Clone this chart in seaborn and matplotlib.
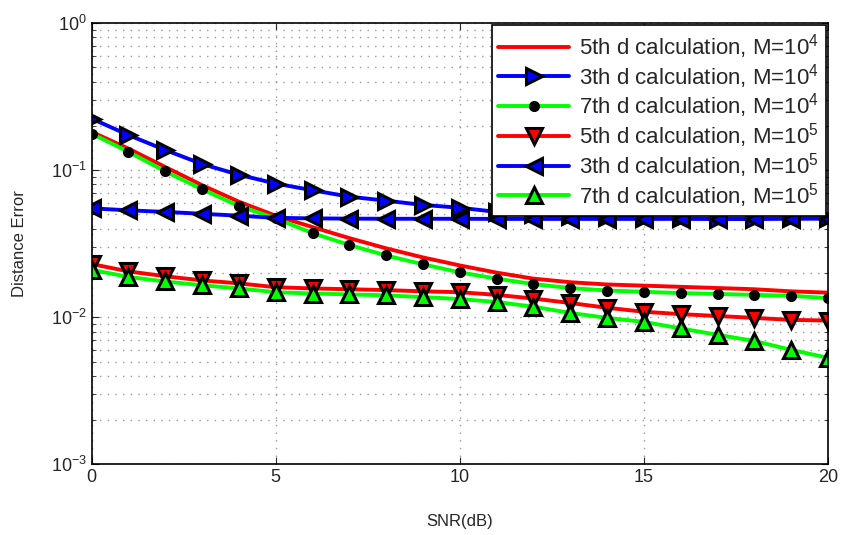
import numpy as np
import pandas as pd
import matplotlib
matplotlib.use("Agg")
import matplotlib.pyplot as plt
import seaborn as sns

# --- donnees ---
snr = list(range(21))

d5_m4 = [0.182, 0.140, 0.105, 0.079, 0.061, 0.049, 0.041, 0.0345, 0.0294, 0.0255, 0.0225,
         0.0201, 0.0183, 0.0173, 0.0167, 0.0164, 0.0161, 0.0158, 0.0155, 0.0150, 0.0147]
d3_m4 = [0.224, 0.173, 0.137, 0.110, 0.093, 0.081, 0.073, 0.066, 0.062, 0.058, 0.0555,
         0.052, 0.050, 0.049, 0.048, 0.047, 0.047, 0.0465, 0.0465, 0.047, 0.047]
d7_m4 = [0.177, 0.133, 0.098, 0.074, 0.057, 0.047, 0.0373, 0.031, 0.0263, 0.0229, 0.0202,
         0.0183, 0.0168, 0.0158, 0.0152, 0.0149, 0.0146, 0.0144, 0.0142, 0.0140, 0.0135]
d5_m5 = [0.023, 0.0205, 0.019, 0.0178, 0.017, 0.016, 0.0157, 0.0155, 0.0153, 0.0150, 0.0148,
         0.0142, 0.0134, 0.0125, 0.0116, 0.0109, 0.0105, 0.0102, 0.0099, 0.0096, 0.0095]
d3_m5 = [0.055, 0.0533, 0.052, 0.0505, 0.049, 0.0474, 0.047, 0.0468, 0.0467, 0.0467, 0.0467,
         0.0466, 0.0466, 0.0466, 0.0466, 0.0466, 0.0467, 0.0467, 0.0468, 0.0468, 0.0469]
d7_m5 = [0.021, 0.0188, 0.0175, 0.0165, 0.0157, 0.0148, 0.0145, 0.0143, 0.0141, 0.0137, 0.0133,
         0.0127, 0.0118, 0.0107, 0.0099, 0.0093, 0.0084, 0.0076, 0.0069, 0.0060, 0.0053]

labels = ["5th d calculation, M=$10^4$", "3th d calculation, M=$10^4$",
          "7th d calculation, M=$10^4$", "5th d calculation, M=$10^5$",
          "3th d calculation, M=$10^5$", "7th d calculation, M=$10^5$"]
series = [d5_m4, d3_m4, d7_m4, d5_m5, d3_m5, d7_m5]
colors = ["#ff0000", "#0000ff", "#00ff00", "#ff0000", "#0000ff", "#00ff00"]
markers = [None, ">", "o", "v", "<", "^"]
msizes = [0, 11, 7, 11, 11, 11]

sns.set_style("ticks")
plt.rcParams["font.family"] = ["Liberation Sans", "DejaVu Sans"]
plt.rcParams["mathtext.fontset"] = "custom"
plt.rcParams["mathtext.rm"] = "Liberation Sans"
plt.rcParams["mathtext.it"] = "Liberation Sans"

fig = plt.figure(figsize=(8.41, 5.35), dpi=100)
ax = fig.add_axes([0.109, 0.132, 0.8755, 0.825])

for vals, lab, c, m, ms in zip(series, labels, colors, markers, msizes):
    df = pd.DataFrame({"snr": snr, "err": vals})
    if m is None:
        kw = {}
    else:
        kw = dict(marker=m, markersize=ms, markeredgecolor="black",
                  markeredgewidth=2.2 if m != "o" else 1.0,
                  markerfacecolor=c if m != "o" else "black")
    sns.lineplot(data=df, x="snr", y="err", ax=ax, color=c, linewidth=2.8,
                 label=lab, **kw)

ax.set_yscale("log")
ax.set_xlim(0, 20)
ax.set_ylim(1e-3, 1)
ax.set_xticks([0, 5, 10, 15, 20])
dots = (0, (1, 4.5))
ax.grid(True, which="major", axis="both", linestyle=dots, color="#999999", linewidth=1.0)
ax.grid(True, which="minor", axis="y", linestyle=dots, color="#999999", linewidth=1.0)
ax.tick_params(which="both", direction="in", top=True, right=True, labelsize=13)
ax.tick_params(which="major", length=5)
ax.tick_params(which="minor", length=3)
for s in ax.spines.values():
    s.set_color("black")
    s.set_linewidth(1.2)

ax.set_xlabel("SNR(dB)", fontsize=12, labelpad=20)
ax.set_ylabel("Distance Error", fontsize=12, labelpad=17)

leg = ax.legend(loc="upper right", fontsize=16, handlelength=3.2, handletextpad=0.45,
                frameon=True, fancybox=False, edgecolor="black", framealpha=1,
                borderaxespad=0.1, labelspacing=0.04, borderpad=0.3)
leg.get_frame().set_linewidth(1.2)

fig.savefig("out.png", dpi=100)
